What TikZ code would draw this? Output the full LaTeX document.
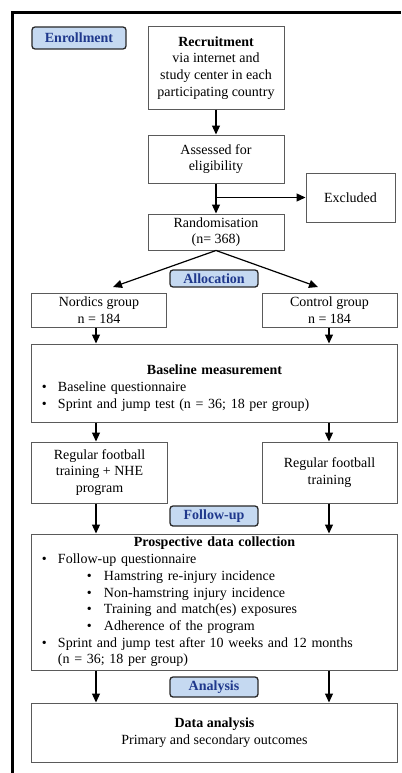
\documentclass[tikz,border=0pt]{standalone}
\usepackage{fontspec}
\setmainfont{Liberation Serif}
\usetikzlibrary{arrows.meta}
\definecolor{boxgray}{RGB}{90,90,90}
\definecolor{tagfill}{RGB}{197,217,241}
\definecolor{tagdraw}{RGB}{40,40,40}
\definecolor{tagtext}{RGB}{31,56,140}
\begin{document}
\begin{tikzpicture}[x=1bp,y=-1bp,
  box/.style={draw=boxgray, line width=1bp, inner sep=0pt, align=center,
    font=\fontsize{14bp}{16.7bp}\selectfont},
  listbox/.style={box, align=left, text width=365bp},
  tag/.style={draw=tagdraw, fill=tagfill, rounded corners=3bp, line width=1.3bp,
    text=tagtext, inner sep=0pt, font=\bfseries\fontsize{14bp}{16bp}\selectfont},
  arr/.style={-{Triangle[length=9bp,width=8bp]}, line width=1.2bp}]
\useasboundingbox (0,0) rectangle (401,773);
\draw[line width=3bp] (12.5,773) -- (12.5,13) -- (401,13);

% labels
\node[tag, minimum width=94bp, minimum height=22bp] (tenr) at (79,38) {Enrollment};
\node[tag, minimum width=88bp, minimum height=17bp] (talloc) at (214,278.5) {Allocation};
\node[tag, minimum width=88bp, minimum height=20bp] (tfol) at (214,516) {Follow-up};
\node[tag, minimum width=88bp, minimum height=20bp] (tana) at (214,687) {Analysis};

% boxes
\node[box, minimum width=136bp, minimum height=82bp] (rec) at (216,68)
  {\textbf{Recruitment}\\via internet and\\study center in each\\participating country};
\node[box, minimum width=136bp, minimum height=48bp] (ass) at (216,159)
  {Assessed for\\eligibility};
\node[box, minimum width=89bp, minimum height=49bp] (excl) at (350.5,197.5) {Excluded};
\node[box, minimum width=136bp, minimum height=36bp] (rand) at (216,232)
  {Randomisation\\(n= 368)};
\node[box, minimum width=134bp, minimum height=34bp] (nord) at (99,310)
  {Nordics group\\n = 184};
\node[box, minimum width=135bp, minimum height=34bp] (ctrl) at (329.5,310)
  {Control group\\n = 184};
\node[listbox, minimum height=78bp] (base) at (214.5,383)
  {{\centering\rule{0pt}{20bp}\textbf{Baseline measurement}\par}
   \hspace*{10bp}\makebox[16bp][l]{\textbullet}Baseline questionnaire\par
   \hspace*{10bp}\makebox[16bp][l]{\textbullet}Sprint and jump test (n = 36; 18 per group)\par};
\node[box, minimum width=135bp, minimum height=61bp] (nhe) at (99.5,472.5)
  {Regular football\\training + NHE\\program};
\node[box, minimum width=135bp, minimum height=61bp] (reg) at (329.5,472.5)
  {Regular football\\training};
\node[listbox, minimum height=136bp] (prosp) at (214.5,602)
  {{\centering\textbf{Prospective data collection}\par}
   \hspace*{10bp}\makebox[16bp][l]{\textbullet}Follow-up questionnaire\par
   \hspace*{55bp}\makebox[17bp][l]{\textbullet}Hamstring re-injury incidence\par
   \hspace*{55bp}\makebox[17bp][l]{\textbullet}Non-hamstring injury incidence\par
   \hspace*{55bp}\makebox[17bp][l]{\textbullet}Training and match(es) exposures\par
   \hspace*{55bp}\makebox[17bp][l]{\textbullet}Adherence of the program\par
   \hspace*{10bp}\makebox[16bp][l]{\textbullet}Sprint and jump test after 10 weeks and 12 months\par
   \hspace*{26bp}(n = 36; 18 per group)\par};
\node[box, minimum width=365bp, minimum height=59bp] (data) at (214.5,732.5)
  {\textbf{Data analysis}\\Primary and secondary outcomes};

% helper coordinates
\coordinate (lx) at (96,0);
\coordinate (rx) at (329,0);
\coordinate (nt) at (113,287);
\coordinate (ct) at (318,287);

% connectors
\draw[arr] (rec) -- (ass);
\draw[arr] (ass.south) -- (rand.north);
\draw[arr] (ass.south |- excl.west) -- (excl.west);
\draw[arr] (rand.south) -- (nt);
\draw[arr] (rand.south) -- (ct);
\draw[arr] (nord.south -| lx) -- (base.north -| lx);
\draw[arr] (ctrl.south -| rx) -- (base.north -| rx);
\draw[arr] (base.south -| lx) -- (nhe.north -| lx);
\draw[arr] (base.south -| rx) -- (reg.north -| rx);
\draw[arr] (nhe.south -| lx) -- (prosp.north -| lx);
\draw[arr] (reg.south -| rx) -- (prosp.north -| rx);
\draw[arr] (prosp.south -| lx) -- (data.north -| lx);
\draw[arr] (prosp.south -| rx) -- (data.north -| rx);
\end{tikzpicture}
\end{document}
